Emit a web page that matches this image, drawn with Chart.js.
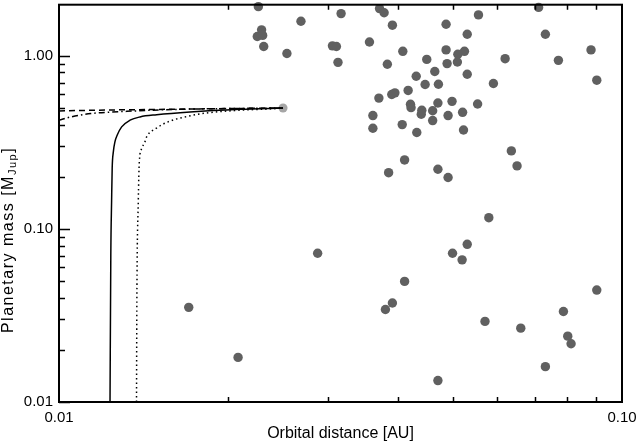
<!DOCTYPE html>
<html>
<head>
<meta charset="utf-8">
<script src="https://cdn.jsdelivr.net/npm/chart.js@4.4.1/dist/chart.umd.min.js"></script>
<style>
  html, body { margin: 0; padding: 0; background: #fff; }
</style>
</head>
<body>
<canvas id="myChart" width="638" height="444"></canvas>
<script>
// observed planets: orbital distance [AU] and mass [M_Jup]
const planetX = [0.0226, 0.0229, 0.0225, 0.0230, 0.0231, 0.0254, 0.0269, 0.0306, 0.0311, 0.0313,
  0.0317, 0.0371, 0.0378, 0.0391, 0.0487, 0.0556, 0.0531, 0.0711, 0.0731, 0.0881,
  0.0356, 0.0408, 0.0383, 0.0450, 0.0487, 0.0511, 0.0525, 0.0489, 0.0510, 0.0620,
  0.0771, 0.0902, 0.0465, 0.0431, 0.0447, 0.0472, 0.0531, 0.0591, 0.0417, 0.0390,
  0.0395, 0.0370, 0.0421, 0.0422, 0.0441, 0.0440, 0.0461, 0.0471, 0.0499, 0.0554,
  0.0491, 0.0521, 0.0361, 0.0361, 0.0407, 0.0461, 0.0432, 0.0523, 0.0636, 0.0651,
  0.0411, 0.0385, 0.0471, 0.0491, 0.0170, 0.0208, 0.0288, 0.0580, 0.0531, 0.0500,
  0.0520, 0.0411, 0.0391, 0.0380, 0.0571, 0.0661, 0.0787, 0.0902, 0.0801, 0.0812,
  0.0731, 0.0471];
const planetY = [1.92, 1.41, 1.29, 1.31, 1.13, 1.03, 1.58, 1.14, 1.13, 0.915,
  1.75, 1.87, 1.77, 1.50, 1.52, 1.72, 1.33, 1.90, 1.33, 1.08,
  1.20, 1.06, 0.892, 0.952, 1.08, 1.02, 1.06, 0.90, 0.919, 0.961,
  0.940, 0.722, 0.810, 0.761, 0.682, 0.684, 0.781, 0.691, 0.630, 0.597,
  0.610, 0.569, 0.524, 0.501, 0.484, 0.459, 0.481, 0.533, 0.545, 0.526,
  0.451, 0.471, 0.451, 0.381, 0.400, 0.422, 0.360, 0.372, 0.282, 0.231,
  0.250, 0.211, 0.221, 0.198, 0.0352, 0.0181, 0.0723, 0.116, 0.0814, 0.0723,
  0.0662, 0.0497, 0.0373, 0.0342, 0.0292, 0.0267, 0.0333, 0.0443, 0.0240, 0.0217,
  0.0160, 0.0133];

// starting planet
const startX = [0.025];
const startY = [0.499];

// evolution tracks
const solidX = [0.01232, 0.01236, 0.01240, 0.01243, 0.01249, 0.01257, 0.01269, 0.01292, 0.01337, 0.01393, 0.01491, 0.01709, 0.02097, 0.025];
const solidY = [0.01, 0.07, 0.144, 0.224, 0.279, 0.318, 0.348, 0.388, 0.424, 0.443, 0.456, 0.473, 0.490, 0.499];
const dottedX = [0.01373, 0.01375, 0.01383, 0.01389, 0.01403, 0.01421, 0.01431, 0.01487, 0.01562, 0.01674, 0.01829, 0.02097, 0.02402, 0.025];
const dottedY = [0.01, 0.0385, 0.144, 0.245, 0.291, 0.318, 0.340, 0.380, 0.415, 0.443, 0.467, 0.484, 0.494, 0.499];
const dashedX = [0.01, 0.0125, 0.0155, 0.02, 0.025];
const dashedY = [0.480, 0.486, 0.490, 0.495, 0.499];
const dashDotX = [0.01, 0.0105, 0.0114, 0.0132, 0.0163, 0.02, 0.025];
const dashDotY = [0.424, 0.443, 0.463, 0.477, 0.490, 0.495, 0.499];

// axis ticks
const xMajor = [0.01, 0.1];
const xMinor = [0.02, 0.03, 0.04, 0.05, 0.06, 0.07, 0.08, 0.09];
const yMajor = [0.01, 0.1, 1];
const yMinor = [0.02, 0.03, 0.04, 0.05, 0.06, 0.07, 0.08, 0.09,
  0.2, 0.3, 0.4, 0.5, 0.6, 0.7, 0.8, 0.9];

const pts = (xs, ys) => xs.map((v, i) => ({ x: v, y: ys[i] }));
const FONT = "'Liberation Sans', Arial, sans-serif";

const track = (xs, ys, dash) => ({
  type: "line",
  data: pts(xs, ys),
  borderColor: "#000",
  borderWidth: 1.5,
  borderDash: dash,
  pointRadius: 0,
  fill: false,
  cubicInterpolationMode: "monotone",
});

const frame = {
  id: "frame",
  afterDraw(chart) {
    const { ctx, chartArea: a, scales } = chart;
    const x = scales.x, y = scales.y;
    ctx.save();
    ctx.strokeStyle = "#000";
    ctx.lineWidth = 2;
    ctx.strokeRect(a.left, a.top, a.right - a.left, a.bottom - a.top);
    ctx.lineWidth = 1.5;
    ctx.beginPath();
    xMinor.forEach(v => {
      const px = Math.round(x.getPixelForValue(v)) + 0.5;
      ctx.moveTo(px, a.bottom); ctx.lineTo(px, a.bottom - 5);
      ctx.moveTo(px, a.top); ctx.lineTo(px, a.top + 5);
    });
    yMinor.forEach(v => {
      const py = Math.round(y.getPixelForValue(v)) + 0.5;
      ctx.moveTo(a.left, py); ctx.lineTo(a.left + 6, py);
    });
    yMajor.forEach(v => {
      const py = Math.round(y.getPixelForValue(v)) + 0.5;
      ctx.moveTo(a.left, py); ctx.lineTo(a.left + 11, py);
    });
    ctx.stroke();

    // axis titles
    ctx.fillStyle = "#000";
    ctx.font = "16px " + FONT;
    ctx.textAlign = "center";
    ctx.textBaseline = "middle";
    ctx.fillText("Orbital distance [AU]", (a.left + a.right) / 2, 434);

    ctx.translate(9, 240);
    ctx.rotate(-Math.PI / 2);
    ctx.textAlign = "left";
    ctx.letterSpacing = "1.5px";
    const big = "16px " + FONT, small = "11px " + FONT;
    ctx.font = big;
    const w1 = ctx.measureText("Planetary mass [M").width;
    const w3 = ctx.measureText("]").width;
    ctx.font = small;
    const w2 = ctx.measureText("Jup").width;
    let sx = -(w1 + w2 + w3) / 2;
    ctx.font = big;
    ctx.fillText("Planetary mass [M", sx, 0);
    ctx.font = small;
    ctx.fillText("Jup", sx + w1, 4);
    ctx.font = big;
    ctx.fillText("]", sx + w1 + w2, 0);
    ctx.restore();
  },
};

new Chart("myChart", {
  type: "scatter",
  data: {
    datasets: [
      track(solidX, solidY, []),
      track(dottedX, dottedY, [1.5, 3]),
      track(dashedX, dashedY, [6, 4]),
      track(dashDotX, dashDotY, [6, 3, 1.5, 3]),
      {
        data: pts(startX, startY),
        backgroundColor: "#a6a6a6",
        borderWidth: 0,
        pointRadius: 4.5,
      },
      {
        data: pts(planetX, planetY),
        backgroundColor: "#606060",
        borderWidth: 0,
        pointRadius: 4.7,
        clip: false,
      },
    ],
  },
  options: {
    responsive: false,
    animation: false,
    events: [],
    layout: { padding: { top: 2, right: 16, left: 0, bottom: 0 } },
    plugins: { legend: { display: false }, tooltip: { enabled: false } },
    scales: {
      x: {
        type: "logarithmic",
        min: 0.01,
        max: 0.1,
        grid: { display: false, drawTicks: false },
        border: { display: false },
        afterBuildTicks: s => { s.ticks = xMajor.map(v => ({ value: v })); },
        afterFit: s => { s.height = 42; s.paddingLeft = 0; s.paddingRight = 0; },
        ticks: {
          color: "#000",
          font: { family: FONT, size: 15 },
          padding: 7,
          maxRotation: 0,
          autoSkip: false,
          callback: v => Number(v).toFixed(2),
        },
      },
      y: {
        type: "logarithmic",
        min: 0.01,
        max: 1.97,
        grid: { display: false, drawTicks: false },
        border: { display: false },
        afterBuildTicks: s => { s.ticks = yMajor.map(v => ({ value: v })); },
        afterFit: s => { s.width = 59; s.paddingTop = 0; s.paddingBottom = 0; },
        ticks: {
          color: "#000",
          font: { family: FONT, size: 15 },
          padding: 6,
          autoSkip: false,
          callback: v => Number(v).toFixed(2),
        },
      },
    },
  },
  plugins: [frame],
});
</script>
</body>
</html>
